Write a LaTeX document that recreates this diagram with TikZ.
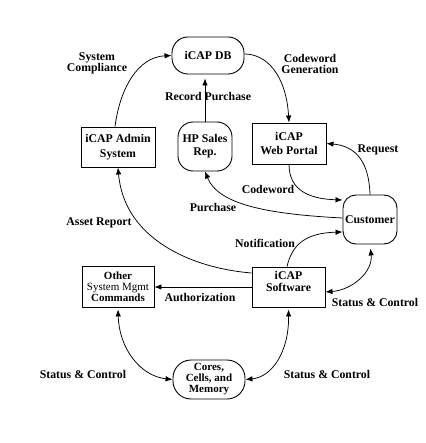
\documentclass[tikz,border=0pt]{standalone}
\usepackage{fontspec}
\setmainfont{Liberation Serif}
\usetikzlibrary{arrows.meta,calc}
\begin{document}
\begin{tikzpicture}[x=1pt,y=-1pt,
  every node/.style={font=\fontsize{11.8}{11}\selectfont\bfseries, inner sep=0pt, align=center},
  sqbox/.style={draw, line width=0.9pt},
  rbox/.style={draw, line width=0.9pt, rounded corners=#1},
  arr/.style={line width=0.75pt, -{Latex[length=7pt,width=5.5pt]}},
  dbl/.style={line width=0.75pt, {Latex[length=7pt,width=5.5pt]}-{Latex[length=7pt,width=5.5pt]}}
]
\fill[white] (0,0) rectangle (425,443);
\useasboundingbox (0,0) rectangle (425,443);

% shapes
\node[rbox=16pt, minimum width=72pt, minimum height=37pt] (db) at (208,55.5) {iCAP DB};
\node[sqbox, minimum width=74pt, minimum height=40pt, font=\fontsize{11.8}{15}\selectfont\bfseries] (adm) at (118,147) {iCAP Admin\\System};
\node[rbox=15pt, minimum width=54pt, minimum height=49pt, font=\fontsize{11.8}{13}\selectfont\bfseries] (hp) at (205,146.5) {HP Sales\\Rep.};
\node[sqbox, minimum width=74pt, minimum height=41pt, font=\fontsize{11.8}{14}\selectfont\bfseries] (pt) at (289,143.5) {iCAP\\Web Portal};
\node[rbox=13pt, minimum width=54pt, minimum height=49pt] (cu) at (370,219.5) {Customer};
\node[sqbox, minimum width=72pt, minimum height=41pt, font=\fontsize{11}{11}\selectfont\bfseries] (oth) at (118,286.5) {Other\\{\mdseries System Mgmt}\\Commands};
\node[sqbox, minimum width=73pt, minimum height=40pt] (sw) at (288.5,287) {};
\node[font=\fontsize{11.8}{12}\selectfont\bfseries] (swt) at (288.5,281) {iCAP\\Software};
\node[rbox=18pt, minimum width=72pt, minimum height=39pt, font=\fontsize{11}{11}\selectfont\bfseries] (cor) at (209,379.5) {Cores,\\Cells, and\\Memory};

% labels
\node (lsc) at (97,63.5) {System\\Compliance};
\node (lcg) at (310,63.5) {Codeword\\Generation};
\node (lrp) at (208,96) {Record Purchase};
\node (lrq) at (378,150) {Request};
\node (lcw) at (268,189) {Codeword};
\node (lpu) at (213,207) {Purchase};
\node (lar) at (99,223) {Asset Report};
\node (lno) at (265,243) {Notification};
\node (lau) at (200,297) {Authorization};
\node (ls1) at (375,302) {Status \& Control};
\node (ls2) at (83,374) {Status \& Control};
\node (ls3) at (327,374) {Status \& Control};

% connectors
\draw[arr] ($(adm.north)+(-3,0)$) .. controls (120,88) and (138,57) .. (db.west);
\draw[arr] ($(db.east)+(0,-1.5)$) .. controls (266,54) and (286,74) .. (pt.north);
\draw[arr, shorten >=4pt] (hp.north) -- (hp.north |- db.south);
\draw[arr] (pt.south) .. controls (289,192) and (312,199) .. ($(cu.west)+(0,-19.5)$);
\draw[arr] (cu.north) .. controls (369,162) and (356,146) .. (pt.east);
\draw[arr] ($(cu.west)+(0,-1.5)$) .. controls (265,214) and (218,204) .. (hp.south);
\draw[arr] ($(sw.west)+(0,-14)$) .. controls (190,268) and (124,238) .. (adm.south);
\draw[arr] ($(sw.north)+(-1.5,0)$) .. controls (292,245) and (305,233) .. ($(cu.west)+(0,12.5)$);
\draw[dbl, shorten <=4pt] (cu.south) .. controls (373,272) and (352,290) .. ($(sw.east)+(0,5)$);
\draw[arr] (sw.west) -- (sw.west -| oth.east);
\draw[dbl, shorten <=2pt] (oth.south) .. controls (119,348) and (140,376) .. (cor.west);
\draw[dbl, shorten <=2pt] (sw.south) .. controls (289,352) and (272,377) .. (cor.east);
\end{tikzpicture}
\end{document}
